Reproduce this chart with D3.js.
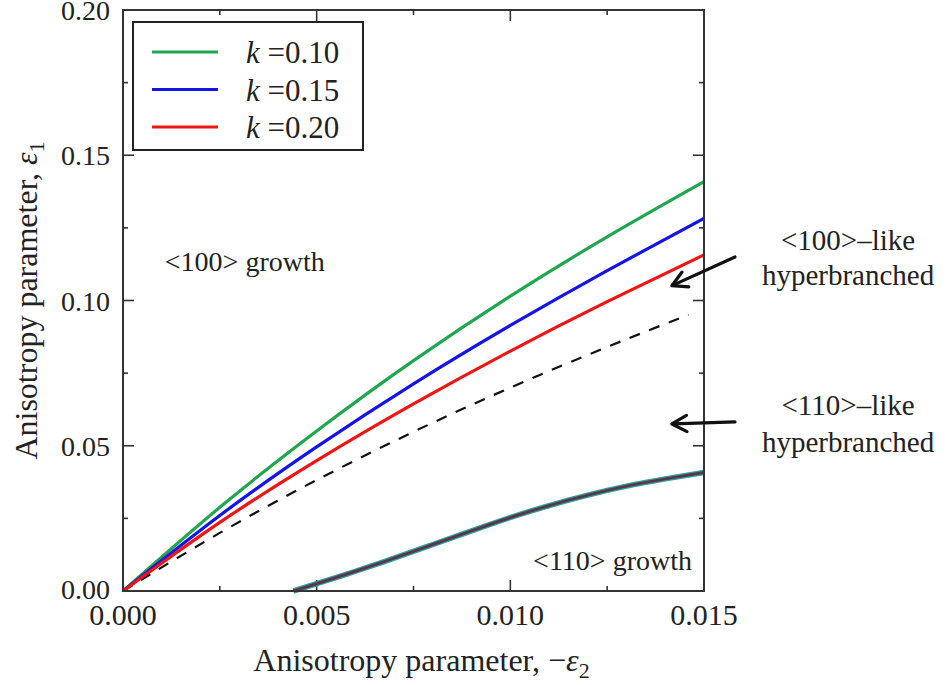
<!DOCTYPE html>
<html>
<head>
<meta charset="utf-8">
<script src="https://cdn.jsdelivr.net/npm/d3@7"></script>
<style>
  body { margin: 0; background: #fff; }
  svg text { font-family: "Liberation Serif", "Times New Roman", serif; fill: #222; }
</style>
</head>
<body>
<div id="container"></div>
<script>
// chart size
var width = 948;
var height = 685;
var margin = { top: 10, right: 244, bottom: 94, left: 123 };

//-----------------------------DATA------------------------------//
var xs = [0, 0.0025, 0.005, 0.0075, 0.010, 0.0125, 0.015];
var k010 = [0, 0.0288, 0.0551, 0.0793, 0.1015, 0.1219, 0.1409];
var k015 = [0, 0.0260, 0.0496, 0.0713, 0.0914, 0.1103, 0.1283];
var k020 = [0, 0.0236, 0.0449, 0.0644, 0.0826, 0.0996, 0.1157];

var dashX = [0, 0.0025, 0.005, 0.0075, 0.010, 0.0125, 0.0146];
var dashY = [0, 0.0200, 0.0382, 0.0548, 0.0700, 0.0840, 0.0951];

// lower boundary (all three k curves overlap here)
var lowX = [0.0044, 0.005, 0.006, 0.007, 0.008, 0.009, 0.010, 0.011, 0.012, 0.013, 0.014, 0.015];
var lowY = [0, 0.0025, 0.0068, 0.0113, 0.0160, 0.0207, 0.0253, 0.0294, 0.0330, 0.0361, 0.0386, 0.0408];

var xTicks = [0, 0.005, 0.010, 0.015];
var yTicks = [0, 0.05, 0.10, 0.15, 0.20];
var seriesNames = ["k =0.10", "k =0.15", "k =0.20"];
var seriesColors = ["#1fa64e", "#1414e6", "#f01414"];

var series = [k010, k015, k020].map(function (vals, i) {
    return {
        name: seriesNames[i],
        color: seriesColors[i],
        values: xs.map(function (x, j) { return { x: x, y: vals[j] }; })
    };
});
var dashed = dashX.map(function (x, j) { return { x: x, y: dashY[j] }; });
var lower = lowX.map(function (x, j) { return { x: x, y: lowY[j] }; });

//----------------------------SCALES-----------------------------//
var svg = d3.select("#container").append("svg")
    .attr("width", width)
    .attr("height", height);

var iw = width - margin.left - margin.right;
var ih = height - margin.top - margin.bottom;

var xScale = d3.scaleLinear().domain([0, 0.015]).range([margin.left, margin.left + iw]);
var yScale = d3.scaleLinear().domain([0, 0.20]).range([margin.top + ih, margin.top]);

var line = d3.line()
    .x(function (d) { return xScale(d.x); })
    .y(function (d) { return yScale(d.y); })
    .curve(d3.curveNatural);

var frameColor = "#333";
var fs = 28;

//-----------------------------AXES------------------------------//
var minorX = d3.range(0, 0.0151, 0.0025);
var minorY = d3.range(0, 0.201, 0.025);

function isMajor(v, list) {
    return list.some(function (t) { return Math.abs(t - v) < 1e-9; });
}

// ticks on all four sides, pointing inward
var tickG = svg.append("g").attr("stroke", frameColor).attr("stroke-width", 1.6);

minorX.forEach(function (v) {
    var len = isMajor(v, xTicks) ? 11 : 5;
    tickG.append("line").attr("x1", xScale(v)).attr("x2", xScale(v))
        .attr("y1", yScale(0)).attr("y2", yScale(0) - len);
    tickG.append("line").attr("x1", xScale(v)).attr("x2", xScale(v))
        .attr("y1", yScale(0.2)).attr("y2", yScale(0.2) + len);
});
minorY.forEach(function (v) {
    var len = isMajor(v, yTicks) ? 11 : 5;
    tickG.append("line").attr("y1", yScale(v)).attr("y2", yScale(v))
        .attr("x1", xScale(0)).attr("x2", xScale(0) + len);
    tickG.append("line").attr("y1", yScale(v)).attr("y2", yScale(v))
        .attr("x1", xScale(0.015)).attr("x2", xScale(0.015) - len);
});

// tick labels
svg.append("g").selectAll("text")
    .data(xTicks).enter().append("text")
    .attr("x", function (d) { return xScale(d); })
    .attr("y", yScale(0) + 34)
    .attr("text-anchor", "middle")
    .style("font-size", "30px")
    .text(d3.format(".3f"));

svg.append("g").selectAll("text")
    .data(yTicks).enter().append("text")
    .attr("x", xScale(0) - 13)
    .attr("y", function (d) { return yScale(d) + 10 - (d === 0 ? 2 : 0); })
    .attr("text-anchor", "end")
    .style("font-size", "28px")
    .text(d3.format(".2f"));

//----------------------------LINES------------------------------//
var plot = svg.append("g");

plot.append("path")
    .attr("d", line(dashed))
    .attr("fill", "none")
    .attr("stroke", "#111")
    .attr("stroke-width", 2.2)
    .attr("stroke-dasharray", "11,10");

series.forEach(function (s) {
    plot.append("path")
        .attr("d", line(s.values))
        .attr("fill", "none")
        .attr("stroke", s.color)
        .attr("stroke-width", 3.2);
});

// overlapping lower curves
plot.append("path")
    .attr("d", line(lower))
    .attr("fill", "none")
    .attr("stroke", "#2aa889")
    .attr("stroke-width", 5.5);
plot.append("path")
    .attr("d", line(lower))
    .attr("fill", "none")
    .attr("stroke", "#5b3356")
    .attr("stroke-width", 3);

// frame
svg.append("rect")
    .attr("x", xScale(0)).attr("y", yScale(0.2))
    .attr("width", iw).attr("height", ih)
    .attr("fill", "none")
    .attr("stroke", frameColor)
    .attr("stroke-width", 2);

//----------------------------LEGEND------------------------------//
var lg = svg.append("g").attr("transform", "translate(" + (xScale(0) + 10) + "," + (yScale(0.2) + 12) + ")");
lg.append("rect")
    .attr("width", 230).attr("height", 128)
    .attr("fill", "#fff")
    .attr("stroke", "#222")
    .attr("stroke-width", 2);

var items = lg.selectAll(".item").data(series).enter().append("g")
    .attr("transform", function (d, i) { return "translate(0," + (30 + i * 37.5) + ")"; });
items.append("line")
    .attr("x1", 19).attr("x2", 85)
    .attr("stroke", function (d) { return d.color; })
    .attr("stroke-width", 3.2);
items.append("text")
    .attr("x", 113).attr("y", 11)
    .style("font-size", "31px")
    .each(function (d) {
        var t = d3.select(this);
        t.append("tspan").style("font-style", "italic").text("k");
        t.append("tspan").text(" " + d.name.slice(2));
    });

//--------------------------ANNOTATIONS---------------------------//
svg.append("text")
    .attr("x", xScale(0.00108)).attr("y", yScale(0.110))
    .style("font-size", fs + "px")
    .text("<100> growth");

svg.append("text")
    .attr("x", xScale(0.01469)).attr("y", yScale(0.0072))
    .attr("text-anchor", "end")
    .style("font-size", fs + "px")
    .text("<110> growth");

var sideLabels = [
    { t: "<100>\u2013like", y: 0.1174 },
    { t: "hyperbranched", y: 0.1053 },
    { t: "<110>\u2013like", y: 0.0606 },
    { t: "hyperbranched", y: 0.0479 }
];
svg.append("g").selectAll("text")
    .data(sideLabels).enter().append("text")
    .attr("x", xScale(0.01872))
    .attr("y", function (d) { return yScale(d.y); })
    .attr("text-anchor", "middle")
    .style("font-size", "29px")
    .text(function (d) { return d.t; });

// arrows (tail -> head)
var arrows = [
    { x1: 0.0158, y1: 0.115, x2: 0.01417, y2: 0.1051 },
    { x1: 0.0158, y1: 0.0582, x2: 0.01417, y2: 0.0575 }
];
arrows.forEach(function (a) {
    var x1 = xScale(a.x1), y1 = yScale(a.y1), x2 = xScale(a.x2), y2 = yScale(a.y2);
    var ang = Math.atan2(y1 - y2, x1 - x2);
    var hl = 17, spread = 0.5;
    var g = svg.append("g").attr("stroke", "#111").attr("stroke-width", 3.2).attr("fill", "none")
        .attr("stroke-linecap", "round").attr("stroke-linejoin", "round");
    g.append("line").attr("x1", x1).attr("y1", y1).attr("x2", x2 + 2 * Math.cos(ang)).attr("y2", y2 + 2 * Math.sin(ang));
    g.append("path").attr("d",
        "M" + (x2 + hl * Math.cos(ang - spread)) + "," + (y2 + hl * Math.sin(ang - spread)) +
        "L" + x2 + "," + y2 +
        "L" + (x2 + hl * Math.cos(ang + spread)) + "," + (y2 + hl * Math.sin(ang + spread)));
});

//--------------------------AXIS TITLES---------------------------//
var xt = svg.append("text")
    .attr("x", margin.left + iw / 2 + 8)
    .attr("y", 671)
    .attr("text-anchor", "middle")
    .style("font-size", "32px");
xt.append("tspan").text("Anisotropy parameter, \u2212");
xt.append("tspan").style("font-style", "italic").text("\u03b5");
xt.append("tspan").attr("dy", 7).style("font-size", "22px").text("2");

var yt = svg.append("text")
    .attr("transform", "translate(37," + (margin.top + ih / 2) + ") rotate(-90)")
    .attr("text-anchor", "middle")
    .style("font-size", "32px");
yt.append("tspan").text("Anisotropy parameter, ");
yt.append("tspan").style("font-style", "italic").text("\u03b5");
yt.append("tspan").attr("dy", 7).style("font-size", "22px").text("1");
</script>
</body>
</html>
